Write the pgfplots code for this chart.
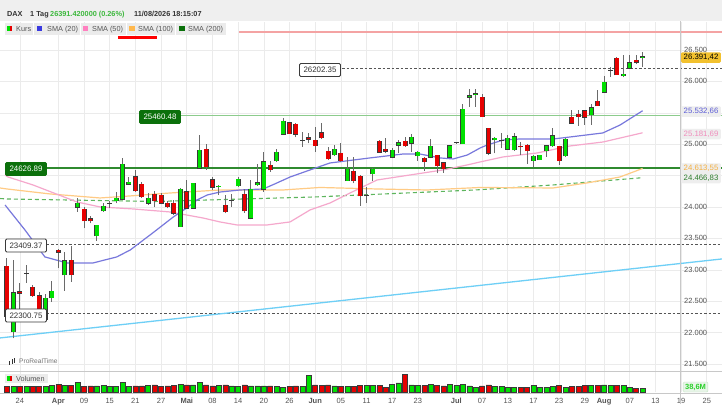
\documentclass[border=0pt]{standalone}
\usepackage{pgfplots}
\pgfplotsset{compat=1.18}
\usepackage{pgfplotstable}
\usepackage{fontspec}
\setmainfont{Liberation Sans}
\definecolor{cgreen}{HTML}{00E000}
\definecolor{cred}{HTML}{E60000}
\definecolor{outl}{HTML}{3A3A3A}
\definecolor{wick}{HTML}{6A6A6A}
\definecolor{gridc}{HTML}{EBEBEB}
\definecolor{sma20}{HTML}{7878DC}
\definecolor{sma50}{HTML}{F5A8CC}
\definecolor{sma100}{HTML}{FFCB85}
\definecolor{sma200}{HTML}{5DB55D}
\definecolor{trend}{HTML}{6ECFF6}
\definecolor{lvlgreen}{HTML}{8CCB8C}
\definecolor{lvldark}{HTML}{2F8A2F}
\definecolor{topred}{HTML}{F4A3A3}
\definecolor{hdrbg}{HTML}{EFEFEF}
\definecolor{legbg}{HTML}{EBEBEB}
\definecolor{txt}{HTML}{333333}
\definecolor{tickc}{HTML}{555555}
\definecolor{hdrgreen}{HTML}{3DB83D}
\definecolor{gold}{HTML}{F2C12E}
\definecolor{lblbg}{HTML}{EEEEEE}
\definecolor{dgbox}{HTML}{0B700B}
\definecolor{sepc}{HTML}{C8C8C8}
\definecolor{sqblue}{HTML}{3A3AE0}
\definecolor{sqpink}{HTML}{FF80C0}
\definecolor{sqorange}{HTML}{FFB84D}
\definecolor{sqgreen}{HTML}{0A700A}
\definecolor{t20}{HTML}{5C5CD6}
\definecolor{t50}{HTML}{F08CBC}
\definecolor{t100}{HTML}{F5B040}
\definecolor{t200}{HTML}{2D7D2D}
\definecolor{volg}{HTML}{2BD12B}
\definecolor{volbg}{HTML}{E8F5E8}
\definecolor{volbd}{HTML}{C5E5C5}

\pgfplotstableread{
x o h l c
0 23060 23180 22200 22260
1 22016 23157 21910 22637
2 22653 22790 22330 22626
3 22945 23077 22796 22945
4 22722 22760 22570 22589
5 22589 22640 22300 22380
6 22202 22610 22180 22546
7 22557 22822 22493 22663
8 23316 23330 23024 23279
9 22918 23290 22663 23146
10 23157 23380 22812 22918
11 23995 24138 23926 24059
12 23963 24006 23661 23783
13 23810 23850 23740 23778
14 23544 23720 23465 23714
15 23937 24059 23926 24016
16 24059 24100 23980 24059
17 24101 24245 24059 24138
18 24123 24775 24112 24685
19 24361 24480 24350 24393
20 24483 24590 24245 24255
21 24367 24400 24140 24165
22 24059 24218 24032 24139
23 24207 24250 24000 24101
24 24192 24220 24040 24059
25 24059 24090 23980 24005
26 24059 24110 23870 23900
27 23687 24300 23687 24282
28 24245 24431 23970 23979
29 23979 24388 23979 24378
30 24616 25147 24616 24908
31 24919 24998 24590 24643
32 24431 24470 24270 24314
33 24320 24350 24190 24335
34 24032 24190 23900 23926
35 24112 24210 24005 24112
36 24335 24473 24325 24441
37 24207 24282 23910 23936
38 23820 24431 23804 24282
39 24351 24680 24335 24388
40 24282 24881 24245 24722
41 24669 24738 24563 24590
42 24738 24924 24722 24871
43 25157 25412 25157 25370
44 25343 25359 25163 25163
45 25317 25333 25110 25157
46 25067 25200 24961 25067
47 25104 25173 25014 25078
48 25067 25279 24881 24977
49 25184 25343 25077 25104
50 24892 24960 24748 24764
51 24828 24987 24812 24918
52 24854 25014 24722 24738
53 24419 24801 24419 24600
54 24573 24801 24377 24419
55 24494 24510 24016 24175
56 24180 24313 24069 24180
57 24526 24616 24419 24600
58 25051 25060 24860 24870
59 24923 25093 24855 24886
60 24791 24934 24775 24907
61 24982 25067 24865 25024
62 25051 25120 24960 24971
63 25014 25162 24881 25109
64 24817 24897 24738 24870
65 24775 24790 24579 24722
66 24791 25077 24775 24971
67 24828 24830 24536 24653
68 24706 24722 24547 24605
69 24791 24987 24775 24977
70 25024 25040 25008 25024
71 25003 25640 25003 25555
72 25746 25873 25597 25772
73 25790 25874 25600 25805
74 25746 25799 25438 25438
75 25253 25253 24828 24855
76 25067 25120 24855 25093
77 25067 25173 24934 25067
78 24918 25147 24908 25093
79 24908 25173 24897 25120
80 24965 25040 24828 24958
81 24987 25003 24685 24897
82 24738 24828 24642 24812
83 24748 24828 24748 24828
84 24897 24990 24800 24977
85 24971 25253 24961 25136
86 24971 24971 24669 24738
87 24812 25093 24802 25077
88 25428 25544 25332 25332
89 25481 25544 25290 25438
90 25534 25544 25306 25428
91 25465 25640 25306 25582
92 25688 25863 25610 25614
93 25826 26086 25826 25985
94 26176 26224 26075 26176
95 26367 26394 26102 26102
96 26091 26420 26065 26118
97 26208 26420 26208 26298
98 26340 26420 26277 26304
99 26380 26473 26235 26391.42
}\ohlc

\pgfplotstableread{
x v d
0 53 0
1 53 1
2 53 0
3 53 1
4 53 0
5 53 0
6 53 1
7 63 1
8 72 0
9 63 1
10 63 0
11 92 1
12 53 0
13 58 0
14 58 1
15 63 1
16 53 1
17 53 1
18 92 1
19 53 1
20 58 0
21 58 0
22 63 1
23 68 0
24 53 0
25 58 0
26 63 0
27 72 1
28 68 0
29 68 1
30 92 1
31 68 0
32 58 0
33 63 1
34 68 0
35 58 1
36 53 1
37 68 0
38 58 1
39 58 1
40 58 1
41 58 0
42 53 1
43 43 1
44 53 0
45 58 0
46 53 1
47 159 1
48 68 0
49 63 0
50 68 0
51 58 1
52 53 0
53 53 1
54 53 0
55 61 0
56 61 1
57 61 1
58 61 0
59 48 0
60 74 1
61 87 1
62 171 0
63 70 1
64 61 1
65 61 0
66 74 1
67 61 0
68 58 0
69 74 1
70 61 1
71 74 1
72 58 1
73 48 1
74 58 0
75 70 0
76 55 1
77 55 1
78 48 1
79 48 1
80 48 0
81 48 0
82 61 1
83 48 1
84 48 1
85 55 1
86 61 0
87 48 1
88 55 0
89 55 0
90 61 0
91 61 1
92 61 0
93 70 1
94 61 1
95 61 0
96 61 1
97 48 1
98 38.6 0
99 38.6 1
}\vol

\newcommand{\fs}[1]{\fontsize{#1bp}{#1bp}\selectfont}

\begin{document}
\begin{tikzpicture}[x=1bp,y=1bp]
\fill[white] (0,0) rectangle (722,407);
\useasboundingbox (0,0) rectangle (722,407);
% header band
\fill[hdrbg] (0,386) rectangle (722,407);

% ---------- price panel ----------
\begin{axis}[at={(0bp,36bp)}, anchor=south west, scale only axis,
  width=722bp, height=349bp,
  xmin=-1.0903, xmax=111.371, ymin=21388.5, ymax=26945.9,
  axis line style={draw=none}, tick style={draw=none},
  scaled x ticks=false, scaled y ticks=false,
  xtick={2,8,12,16,20,24,28,32,36,40,44,48,52,56,60,64,70,74,78,82,86,90,93,97,101,105,109},
  ytick={21500,22000,...,26500}, xticklabels={}, yticklabels={},
  grid=major, major grid style={draw=gridc, line width=0.6bp},
  clip=true]
% level lines
\addplot[topred, line width=1.5bp] coordinates {(36.2,26787) (111.371,26787)};
\addplot[tickc, line width=0.8bp, dash pattern=on 2.5bp off 2bp] coordinates {(52.18,26202.35) (111.371,26202.35)};
\addplot[lvlgreen, line width=1.3bp] coordinates {(26.64,25460.48) (111.371,25460.48)};
\addplot[lvldark, line width=2bp] coordinates {(6.23,24626.89) (111.371,24626.89)};
\addplot[tickc, line width=0.8bp, dash pattern=on 2.5bp off 2bp] coordinates {(6.23,23409.37) (111.371,23409.37)};
\addplot[tickc, line width=0.8bp, dash pattern=on 2.5bp off 2bp] coordinates {(6.23,22300.75) (111.371,22300.75)};
% trend line
\addplot[trend, line width=1.3bp] coordinates {(-1.0903,21915) (111.371,23173)};
% SMA 200
\addplot[sma200, line width=1.1bp, dash pattern=on 4bp off 3bp] coordinates {
(-1.09,24135) (0,24128) (23.05,24088) (47.98,24160) (72.9,24271) (85.05,24351) (99,24466.83)};
% SMA 100
\addplot[sma100, line width=1.2bp] coordinates {
(-1.09,24303) (0,24287) (6.7,24208) (14.49,24144) (19.16,24176) (25.39,24223) (33.18,24271)
(42.99,24271) (48.75,24311) (57.63,24287) (65.42,24271) (73.68,24311) (85.05,24303)
(90.34,24383) (95.48,24478) (99,24613.55)};
% SMA 50
\addplot[sma50, line width=1.2bp] coordinates {
(-0.3,24510) (0.16,24478) (4.05,24351) (10.9,24080) (14.49,24001) (19.63,23969) (25.39,23921)
(30.53,23825) (33.18,23762) (35.83,23714) (40.5,23714) (44.08,23762) (47.2,23953)
(50.31,24064) (53.43,24223) (57.63,24430) (62.77,24510) (67.91,24590) (71.65,24669)
(73.68,24717) (77.26,24797) (82.55,24860) (87.69,24972) (92.83,25035) (99,25181.69)};
% SMA 20
\addplot[sma20, line width=1.2bp] coordinates {
(-0.3,24032) (2.8,23634) (5.9,23205) (9.35,23109) (13.4,23109) (17.1,23205) (19.2,23316)
(22.7,23587) (25.9,23841) (28.0,23985) (29.6,24112) (31.2,24192) (33.2,24239) (36.3,24271)
(39.9,24287) (41.7,24367) (44.1,24478) (47.2,24590) (50.3,24701) (56.5,24781) (61.7,24844)
(64.3,24844) (67.5,24781) (69.5,24765) (71.7,24828) (73.7,24940) (74.8,24988) (77.3,25067)
(79.9,25083) (85.1,25083) (87.7,25115) (92.8,25179) (95.5,25306) (99,25532.66)};
% candles: wicks
\addplot[draw=none, mark=none, error bars/.cd, y dir=plus, y explicit, error mark=none,
  error bar style={draw=wick, line width=1bp, solid}]
  table[x=x, y=l, y error plus expr=\thisrow{h}-\thisrow{l}] {\ohlc};
% candles: body outline
\addplot[draw=none, mark=none, error bars/.cd, y dir=plus, y explicit, error mark=none,
  error bar style={draw=outl, line width=5bp, solid}]
  table[x=x, y expr={min(\thisrow{o},\thisrow{c})-7}, y error plus expr={abs(\thisrow{c}-\thisrow{o})+14}] {\ohlc};
% candles: green bodies
\addplot[draw=none, mark=none, restrict expr to domain={\thisrow{c}-\thisrow{o}}{0.5:5000},
  error bars/.cd, y dir=plus, y explicit, error mark=none,
  error bar style={draw=cgreen, line width=3.4bp, solid}]
  table[x=x, y expr={min(\thisrow{o},\thisrow{c})}, y error plus expr={abs(\thisrow{c}-\thisrow{o})}] {\ohlc};
% candles: red bodies
\addplot[draw=none, mark=none, restrict expr to domain={\thisrow{c}-\thisrow{o}}{-5000:-0.5},
  error bars/.cd, y dir=plus, y explicit, error mark=none,
  error bar style={draw=cred, line width=3.4bp, solid}]
  table[x=x, y expr={min(\thisrow{o},\thisrow{c})}, y error plus expr={abs(\thisrow{c}-\thisrow{o})}] {\ohlc};
\end{axis}

% ---------- volume panel ----------
\begin{axis}[at={(0bp,15bp)}, anchor=south west, scale only axis,
  width=722bp, height=20bp,
  xmin=-1.0903, xmax=111.371, ymin=0, ymax=193,
  axis line style={draw=none}, tick style={draw=none},
  xtick={2,8,12,16,20,24,28,32,36,40,44,48,52,56,60,64,70,74,78,82,86,90,93,97,101,105,109},
  xticklabels={24,\textbf{Apr},09,15,21,27,\textbf{Mai},08,14,20,26,\textbf{Jun},05,11,17,23,\textbf{Jul},07,13,17,23,29,\textbf{Aug},07,13,19,25},
  ytick=\empty, xmajorgrids, major grid style={draw=gridc, line width=0.6bp},
  xticklabel style={font=\fs{7.5}, text=tickc, inner sep=0pt, anchor=north, yshift=-2bp},
  ybar, bar width=5bp, clip=false]
\addplot[fill=cgreen, draw=outl, line width=0.5bp, bar shift=0pt,
  restrict expr to domain={\thisrow{d}}{0.5:1.5}] table[x=x, y=v] {\vol};
\addplot[fill=cred, draw=outl, line width=0.5bp, bar shift=0pt,
  restrict expr to domain={\thisrow{d}}{-0.5:0.5}] table[x=x, y=v] {\vol};
\end{axis}

% separators
\draw[sepc, line width=0.8bp] (0,36) -- (722,36);
\draw[sepc, line width=0.8bp] (0,13.5) -- (722,13.5);
\draw[sepc, line width=0.8bp] (680,3) -- (680,386);

% header text
\node[anchor=base west, inner sep=0, font=\fs{7.3}\bfseries, text=txt] at (7,390) {DAX};
\node[anchor=base west, inner sep=0, font=\fs{7.3}\bfseries, text=txt] at (30,390) {1 Tag};
\node[anchor=base west, inner sep=0, font=\fs{7.3}\bfseries, text=hdrgreen] at (50,390) {26391.420000 (0.26\%)};
\node[anchor=base west, inner sep=0, font=\fs{7.3}\bfseries, text=txt] at (134,390) {11/08/2026 18:15:07};

% legend row
\fill[legbg] (5,372) rectangle (33,384);
\fill[legbg] (34,372) rectangle (80,384);
\fill[legbg] (81,372) rectangle (126,384);
\fill[legbg] (127,372) rectangle (175,384);
\fill[legbg] (176,372) rectangle (226,384);
\fill[cgreen] (7,375.5) rectangle (9.5,381);
\fill[cred] (9.5,375.5) rectangle (12,381);
\fill[sqblue] (37,375.5) rectangle (42,381);
\fill[sqpink] (83,375.5) rectangle (88,381);
\fill[sqorange] (129,375.5) rectangle (134.5,381);
\fill[sqgreen] (179,375.5) rectangle (184.5,381);
\node[anchor=base west, inner sep=0, font=\fs{7.3}, text=tickc] at (16,375.5) {Kurs};
\node[anchor=base west, inner sep=0, font=\fs{7.3}, text=tickc] at (47,375.5) {SMA (20)};
\node[anchor=base west, inner sep=0, font=\fs{7.3}, text=tickc] at (92,375.5) {SMA (50)};
\node[anchor=base west, inner sep=0, font=\fs{7.3}, text=tickc] at (138,375.5) {SMA (100)};
\node[anchor=base west, inner sep=0, font=\fs{7.3}, text=tickc] at (188,375.5) {SMA (200)};
\fill[red] (118,368) rectangle (157,371);

% level labels
\tikzset{lvl/.style={inner xsep=4bp, inner ysep=0bp, minimum height=13bp, font=\fs{7.9}, rounded corners=1.2bp, line width=0.8bp}}
\node[lvl, draw=outl, fill=white, text=txt] at (320,337) {26202.35};
\node[lvl, draw=dgbox, fill=dgbox, text=white] at (160,290) {25460.48};
\node[lvl, draw=dgbox, fill=dgbox, text=white] at (26,238) {24626.89};
\node[lvl, draw=outl, fill=white, text=txt] at (26,161.5) {23409.37};
\node[lvl, draw=outl, fill=white, text=txt] at (26,91.5) {22300.75};

% right axis labels
\tikzset{rl/.style={anchor=west, inner sep=0, font=\fs{7.5}, text=tickc}}
\node[rl] at (684,357) {26.500};
\node[rl] at (684,325.6) {26.000};
\node[rl] at (684,262.8) {25.000};
\node[rl] at (684,200) {24.000};
\node[rl] at (684,168.6) {23.500};
\node[rl] at (684,137.2) {23.000};
\node[rl] at (684,105.8) {22.500};
\node[rl] at (684,74.4) {22.000};
\node[rl] at (684,43) {21.500};
\tikzset{vl/.style={anchor=west, inner xsep=2.5bp, inner ysep=0bp, minimum height=10.5bp, font=\fs{7.8}, rounded corners=1.2bp}}
\node[vl, fill=lblbg, text=t200] at (681,229) {24.466,83};
\node[vl, fill=lblbg, text=t100] at (681,238.5) {24.613,55};
\node[vl, fill=lblbg, text=t50] at (681,273) {25.181,69};
\node[vl, fill=lblbg, text=t20] at (681,295.5) {25.532,66};
\node[vl, fill=gold, text=black] at (681,349.5) {26.391,42};

% volume legend and value
\fill[legbg] (5,24) rectangle (48,33);
\fill[cgreen] (7,26) rectangle (9.5,31);
\fill[cred] (9.5,26) rectangle (12,31);
\node[anchor=base west, inner sep=0, font=\fs{7.3}, text=tickc] at (16,26) {Volumen};
\node[anchor=center, inner xsep=2bp, inner ysep=0bp, minimum height=10bp, fill=volbg, draw=volbd, rounded corners=1.2bp, font=\fs{7.5}\bfseries, text=volg] at (695.5,20) {38,6M};

% ProRealTime mark
\fill[black!80] (9,42) rectangle (10.3,46);
\fill[black!80] (11.5,43) rectangle (12.8,48);
\fill[black!80] (14,44) rectangle (15.3,49);
\node[anchor=west, inner sep=0, font=\fs{6.6}, text=black!55] at (19,46) {ProRealTime};
\end{tikzpicture}
\end{document}
